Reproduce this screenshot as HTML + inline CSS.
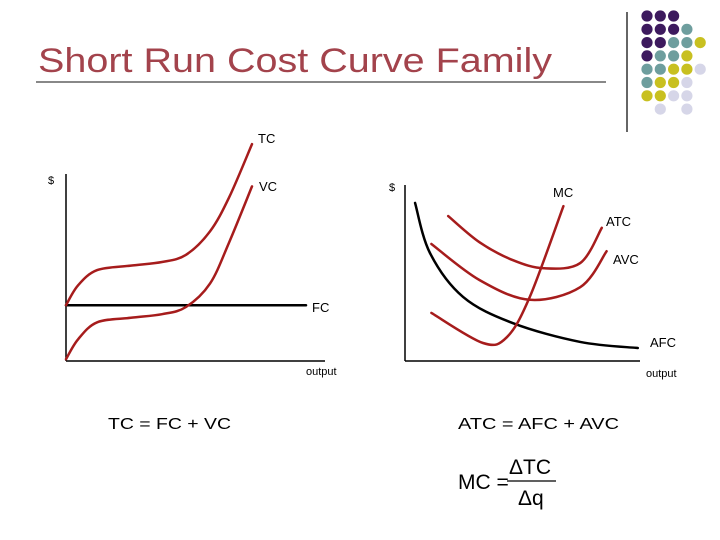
<!DOCTYPE html>
<html><head><meta charset="utf-8"><style>
html,body{margin:0;padding:0;background:#fff;width:720px;height:540px;overflow:hidden}
svg{display:block}
text{font-family:"Liberation Sans",sans-serif}
</style></head><body>
<svg id="s" width="720" height="540" viewBox="0 0 720 540" xmlns="http://www.w3.org/2000/svg">
<text x="38" y="72" font-size="34" fill="#a3434c" textLength="514" lengthAdjust="spacingAndGlyphs">Short Run Cost Curve Family</text>
<line x1="36" y1="82" x2="606" y2="82" stroke="#888" stroke-width="2"/>
<line x1="627" y1="12" x2="627" y2="132" stroke="#333" stroke-width="1.5"/>
<g id="dots"></g>

<g>
<line x1="66" y1="174" x2="66" y2="361" stroke="#000" stroke-width="1.5"/>
<line x1="66" y1="361" x2="325" y2="361" stroke="#000" stroke-width="1.5"/>
<text x="48" y="184" font-size="11">$</text>
<text x="306" y="375" font-size="11">output</text>
<g id="left"></g>
<text x="258" y="143" font-size="13">TC</text>
<text x="259" y="191" font-size="13">VC</text>
<text x="312" y="312" font-size="13">FC</text>
</g>

<g>
<line x1="405" y1="185" x2="405" y2="361" stroke="#000" stroke-width="1.5"/>
<line x1="405" y1="361" x2="640" y2="361" stroke="#000" stroke-width="1.5"/>
<text x="389" y="191" font-size="11">$</text>
<text x="646" y="377" font-size="11">output</text>
<g id="right"></g>
<text x="553" y="197" font-size="13">MC</text>
<text x="606" y="226" font-size="13">ATC</text>
<text x="613" y="264" font-size="13">AVC</text>
<text x="650" y="347" font-size="13">AFC</text>
</g>

<text x="108" y="429" font-size="16" textLength="123" lengthAdjust="spacingAndGlyphs">TC = FC + VC</text>
<text x="458" y="429" font-size="16" textLength="161" lengthAdjust="spacingAndGlyphs">ATC = AFC + AVC</text>
<g>
<text x="458" y="489" font-size="21">MC =</text>
<text x="509" y="474" font-size="21">ΔTC</text>
<line x1="507" y1="481" x2="556" y2="481" stroke="#000" stroke-width="1.2"/>
<text x="518" y="505" font-size="21">Δq</text>
</g>
</svg>
<script>
// Left chart data: output (0-100), $ (0-100)
const tcQ = [0, 5, 13, 27, 40, 50, 60, 68, 77.5];
const tcV = [31, 42, 50.5, 53, 55, 59, 72, 91, 120.5];
const vcQ = [0, 5, 13, 27, 40, 50, 60, 68, 77.5];
const vcV = [1, 12, 21.5, 24, 26, 30, 43, 66, 97];
const fcQ = [0, 100];
const fcV = [31, 31];
// Right chart data
const afcQ = [4.2, 10.4, 24.2, 45, 73, 97];
const afcV = [87.8, 60, 35.6, 21, 10.6, 7.2];
const atcQ = [18, 31, 45, 58, 73, 82];
const atcV = [80.5, 66, 56, 51.5, 54.4, 74];
const avcQ = [11, 31, 52, 73, 84];
const avcV = [65, 45, 34, 41, 61];
const mcQ = [11, 32.5, 42.5, 52, 66];
const mcV = [26.7, 10, 13.3, 35.6, 86];
const dotColors = ["#3d1a5e","#6e9e9e","#c8c020","#d6d6e8"];
const dotRows = [[0,0,0,-1,-1],[0,0,0,1,-1],[0,0,1,1,2],[0,1,1,2,-1],[1,1,2,2,3],[1,2,2,3,-1],[2,2,3,3,-1],[-1,3,-1,3,-1]];

const NS="http://www.w3.org/2000/svg";
function axes(x0,x1,y0,y1){return {x:q=>x0+(x1-x0)*q/100,y:v=>y0-(y0-y1)*v/100};}
const L=axes(66,306,361,181);
const R=axes(405,645,361,181);
function smooth(pts){
  let d="M"+pts[0][0]+","+pts[0][1];
  for(let i=0;i<pts.length-1;i++){
    const p0=pts[Math.max(0,i-1)],p1=pts[i],p2=pts[i+1],p3=pts[Math.min(pts.length-1,i+2)];
    const c1=[p1[0]+(p2[0]-p0[0])/6,p1[1]+(p2[1]-p0[1])/6];
    const c2=[p2[0]-(p3[0]-p1[0])/6,p2[1]-(p3[1]-p1[1])/6];
    d+=" C"+c1+" "+c2+" "+p2;
  }
  return d;
}
function curve(g,ax,qs,vs,color,name){
  const pts=qs.map((q,i)=>[ax.x(q),ax.y(vs[i])]);
  const p=document.createElementNS(NS,"path");
  p.setAttribute("d",pts.length>2?smooth(pts):"M"+pts[0]+" L"+pts[1]);
  p.setAttribute("fill","none");
  p.setAttribute("stroke",color);
  p.setAttribute("stroke-width","2.5");
  p.setAttribute("stroke-linecap","round");
  
  
  document.getElementById(g).appendChild(p);
}
const red="#a61c1c";
curve("left",L,fcQ,fcV,"#000","fc-curve");
curve("left",L,tcQ,tcV,red,"tc-curve");
curve("left",L,vcQ,vcV,red,"vc-curve");
curve("right",R,afcQ,afcV,"#000","afc-curve");
curve("right",R,atcQ,atcV,red,"atc-curve");
curve("right",R,avcQ,avcV,red,"avc-curve");
curve("right",R,mcQ,mcV,red,"mc-curve");
const dg=document.getElementById("dots");
dotRows.forEach((row,r)=>row.forEach((c,k)=>{
  if(c<0)return;
  const e=document.createElementNS(NS,"circle");
  e.setAttribute("cx",647+k*13.3);
  e.setAttribute("cy",16+r*13.3);
  e.setAttribute("r",5.6);
  e.setAttribute("fill",dotColors[c]);
  
  
  dg.appendChild(e);
}));
</script>
</body></html>
